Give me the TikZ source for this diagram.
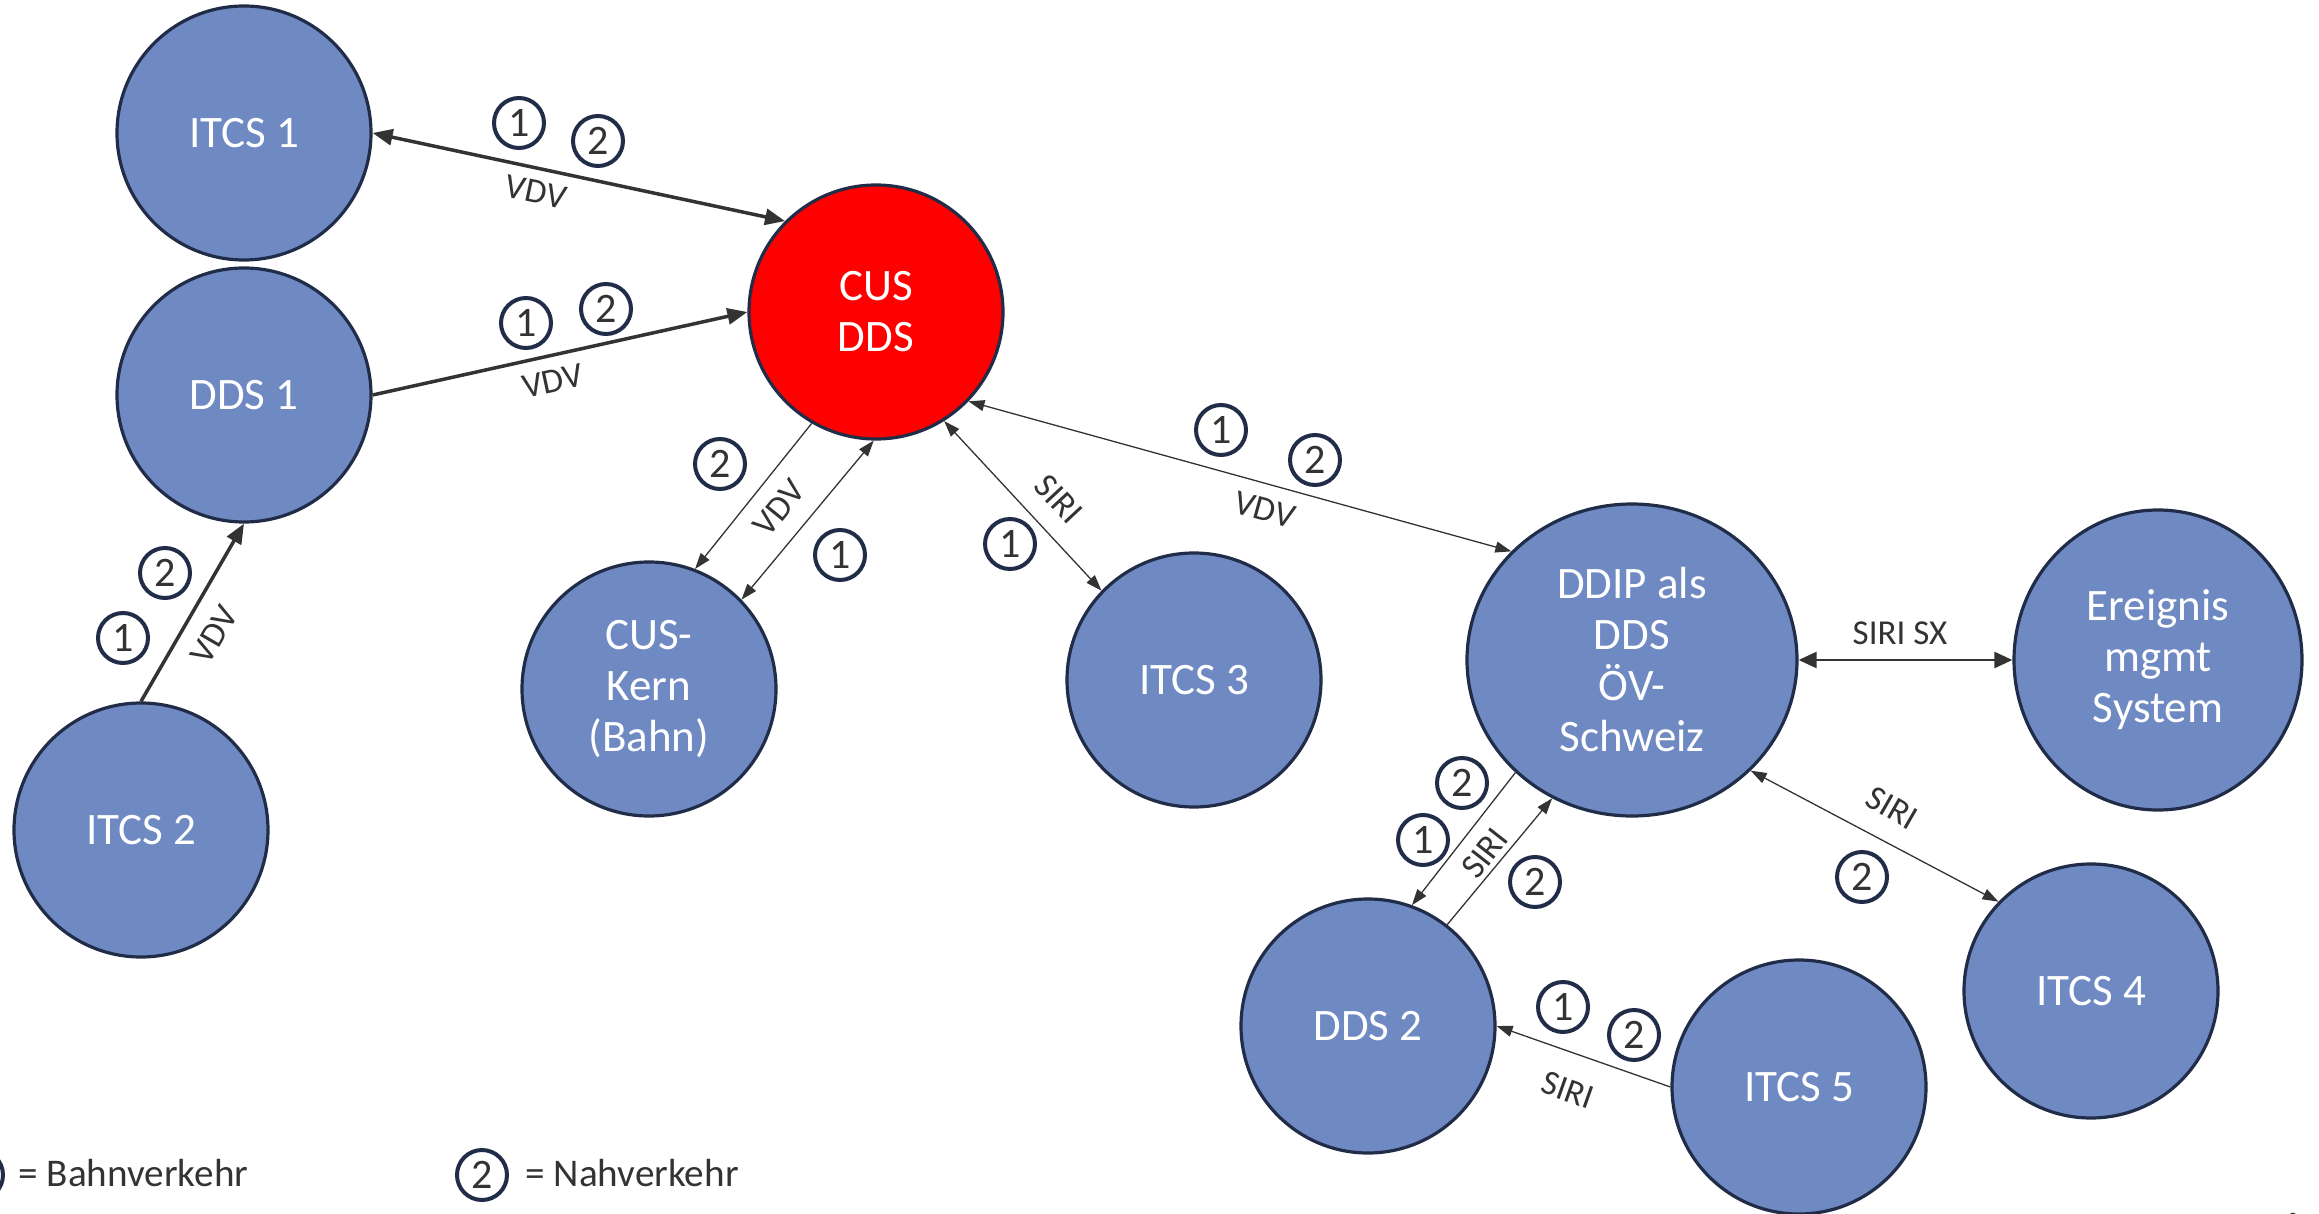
\documentclass[tikz,border=0pt]{standalone}
\usepackage{fontspec}
\setmainfont{Carlito}
\usetikzlibrary{arrows.meta,shapes.geometric}
\definecolor{nodeblue}{RGB}{111,137,195}
\definecolor{navy}{RGB}{32,44,72}
\definecolor{linegray}{RGB}{51,51,51}
\definecolor{cusred}{RGB}{255,0,0}
\begin{document}
\begin{tikzpicture}[x=0.5pt,y=-0.5pt,
  sys/.style={circle,draw=navy,line width=1.6pt,fill=nodeblue,minimum size=127pt,inner sep=0pt,text=white,align=center,font=\fontsize{22.5}{25.5}\selectfont},
  sysell/.style={sys,ellipse},
  mk/.style={circle,draw=navy,line width=2pt,minimum size=25pt,inner sep=0pt,text=linegray,font=\fontsize{21}{21}\selectfont},
  elab/.style={text=linegray,font=\fontsize{17.5}{17.5}\selectfont,inner sep=0pt},
  legtext/.style={text=linegray,font=\fontsize{19.6}{19.6}\selectfont,inner sep=0pt,anchor=base west},
  thk/.style={draw=linegray,line width=1.75pt,>={Triangle[length=10pt,width=8pt]}},
  med/.style={draw=linegray,line width=1.25pt,>={Triangle[length=9pt,width=8pt]}},
  thn/.style={draw=linegray,line width=0.65pt,>={Triangle[length=8pt,width=5.5pt]}}]
\useasboundingbox (0,0) rectangle (2319,1214);

% systems
\node[sys] (itcs1) at (244,133) {ITCS 1};
\node[sys] (dds1) at (244,395) {DDS 1};
\node[sys,fill=cusred] (cus) at (876,312) {CUS\\DDS};
\node[sys] (itcs2) at (141,830) {ITCS 2};
\node[sys] (kern) at (649,689) {CUS-\\Kern\\(Bahn)};
\node[sys] (itcs3) at (1194,680) {ITCS 3};
\node[sysell,minimum width=165pt,minimum height=156pt] (ddip) at (1632,660) {DDIP als\\DDS\\ÖV-\\Schweiz};
\node[sysell,minimum width=144pt,minimum height=150pt] (ereig) at (2158,660) {Ereignis\\mgmt\\System};
\node[sys] (dds2) at (1368,1026) {DDS 2};
\node[sys] (itcs5) at (1799,1087) {ITCS 5};
\node[sys] (itcs4) at (2091,991) {ITCS 4};

% connectors
\draw[thk,<->] (itcs1.east) -- (cus.135);
\draw[thk,->] (dds1.east) -- (cus.west);
\draw[thk,->] (itcs2.north) -- (dds1.south);
\draw[thn,->] (cus.240) -- (kern.69);
\draw[thn,<->] (cus.269) -- (kern.44);
\draw[thn,<->] (cus.302) -- (itcs3.136);
\draw[thn,<->] (cus.316) -- (ddip.138);
\draw[med,<->] (ddip.east) -- (ereig.west);
\draw[thn,->] (ddip.224) -- (dds2.70);
\draw[thn,->] (dds2.52) -- (ddip.240);
\draw[thn,<->] (ddip.317) -- (itcs4.136);
\draw[thn,->] (itcs5.west) -- (dds2.east);

% labels
\node[mk] (m1a) at (519,123) {1};
\node[mk] (m1b) at (598,141) {2};
\node[elab,rotate=-12] (l1) at (536,192) {VDV};
\node[mk] (m2a) at (526,323) {1};
\node[mk] (m2b) at (606,309) {2};
\node[elab,rotate=12] (l2) at (553,381) {VDV};
\node[mk] (m3b) at (165,573) {2};
\node[mk] (m3a) at (123,638) {1};
\node[elab,rotate=60] (l3) at (214,635) {VDV};
\node[mk] (m4b) at (720,464) {2};
\node[elab,rotate=51] (l4) at (779,508) {VDV};
\node[mk] (m4a) at (840,555) {1};
\node[elab,rotate=-47] (l5) at (1059,499) {SIRI};
\node[mk] (m5a) at (1010,544) {1};
\node[mk] (m6a) at (1221,430) {1};
\node[mk] (m6b) at (1315,460) {2};
\node[elab,rotate=-15.5] (l6) at (1265,510) {VDV};
\node[elab] (l7) at (1900,633) {SIRI SX};
\node[mk] (m8a) at (1462,783) {2};
\node[mk] (m8b) at (1423,840) {1};
\node[elab,rotate=52] (l8) at (1485,853) {SIRI};
\node[mk] (m8c) at (1535,882) {2};
\node[elab,rotate=-30] (l9) at (1892,808) {SIRI};
\node[mk] (m9) at (1862,877) {2};
\node[mk] (m10a) at (1563,1007) {1};
\node[mk] (m10b) at (1634,1035) {2};
\node[elab,rotate=-19.5] (l10) at (1568,1090) {SIRI};

% legend
\node[mk] (lg1) at (-22,1175) {1};
\node[legtext] (lt1) at (18,1186) {= Bahnverkehr};
\node[mk] (lg2) at (482,1175) {2};
\node[legtext] (lt2) at (525,1186) {= Nahverkehr};
\node[text=linegray,font=\fontsize{9}{9}\selectfont,inner sep=0pt] (pg) at (2293,1219) {8};
\end{tikzpicture}
\end{document}
